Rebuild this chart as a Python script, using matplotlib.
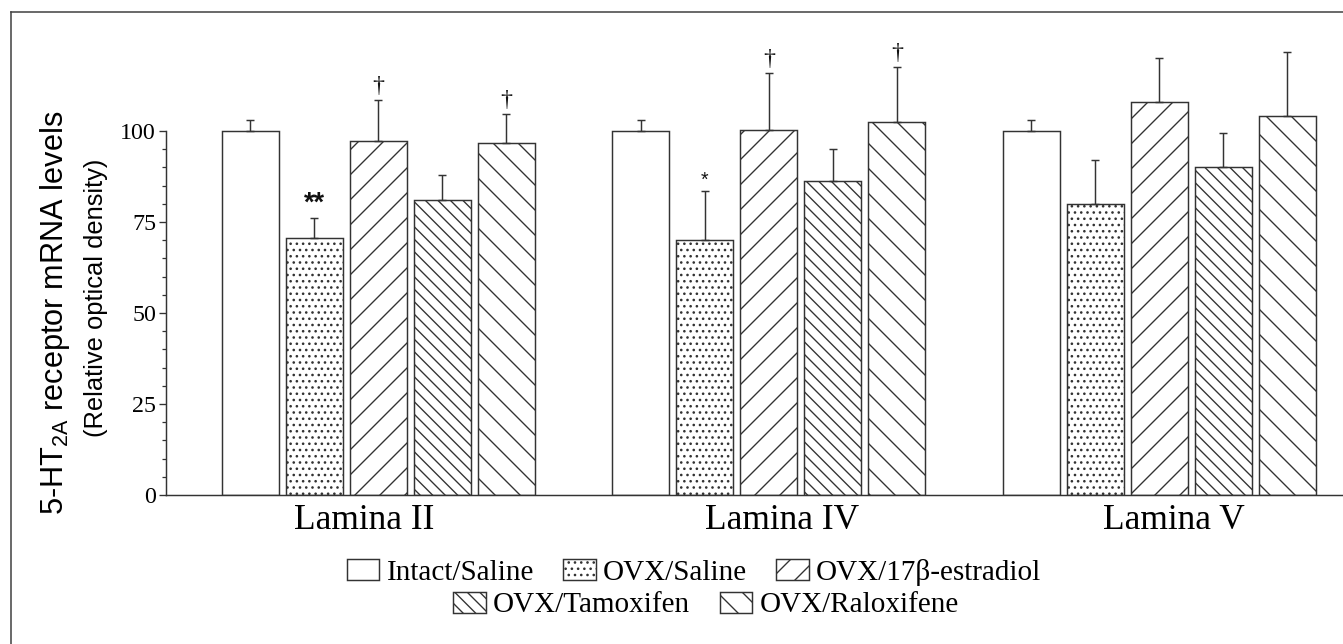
import matplotlib
matplotlib.use("Agg")
import matplotlib.pyplot as plt
from matplotlib.lines import Line2D
import numpy as np

# Data
groups = ["Lamina II", "Lamina IV", "Lamina V"]
treatments = ["Intact/Saline", "OVX/Saline", "OVX/17β-estradiol",
              "OVX/Tamoxifen", "OVX/Raloxifene"]

intact_saline = [100, 100, 100]
ovx_saline = [70.5, 70, 80]
ovx_estradiol = [97.2, 100.4, 108]
ovx_tamoxifen = [81, 86.3, 90]
ovx_raloxifene = [96.7, 102.5, 104]

intact_saline_err = [3, 3, 3]
ovx_saline_err = [5.6, 13.5, 12]
ovx_estradiol_err = [11.3, 15.5, 12]
ovx_tamoxifen_err = [6.9, 8.7, 9.5]
ovx_raloxifene_err = [8, 15.1, 17.7]

# significance marks: (group index, treatment index, symbol)
sig_marks = [(0, 1, "**"), (1, 1, "*"),
             (0, 2, "†"), (0, 4, "†"), (1, 2, "†"), (1, 4, "†")]

means = [intact_saline, ovx_saline, ovx_estradiol, ovx_tamoxifen, ovx_raloxifene]
errs = [intact_saline_err, ovx_saline_err, ovx_estradiol_err,
        ovx_tamoxifen_err, ovx_raloxifene_err]
hatches = ["", "..", "/", "\\\\", "\\"]

W, H, DPI = 1343, 644, 75
EDGE = "#333333"
SERIF = "Liberation Serif"
SANS = "Liberation Sans"

plt.rcParams["hatch.linewidth"] = 1.3
plt.rcParams["hatch.color"] = EDGE

fig = plt.figure(figsize=(W / DPI, H / DPI), dpi=DPI)
ax_left, ax_bottom = 166 / W, (H - 495) / H
ax_top = (H - 40) / H
ax = fig.add_axes([ax_left, ax_bottom, 1 - ax_left, ax_top - ax_bottom])

group_step = 6.1
width = 0.89
group_pos = np.arange(len(groups)) * group_step

handles = []
for i, (m, e) in enumerate(zip(means, errs)):
    x = group_pos + i
    b = ax.bar(x, m, width=width, color="white", edgecolor=EDGE,
               linewidth=1.4, hatch=hatches[i], zorder=2)
    handles.append(b[0])
    ax.errorbar(x, m, yerr=[np.zeros(len(m)), e], fmt="none", ecolor=EDGE,
                elinewidth=1.4, capsize=3.5, capthick=1.4, zorder=3)

for g, t, sym in sig_marks:
    top = means[t][g] + errs[t][g]
    if sym == "**":
        ax.text(group_pos[g] + t, top + 0.3, sym, ha="center", va="bottom",
                fontsize=26, fontweight="bold", family=SANS, color="#111111")
    elif sym == "*":
        ax.text(group_pos[g] + t, top + 0.3, sym, ha="center", va="bottom",
                fontsize=19, family=SANS, color="#111111")
    else:
        ax.text(group_pos[g] + t, top + 0.8, sym, ha="center", va="bottom",
                fontsize=23, family=SERIF, color="#111111")

ax.set_xlim(-1.32, 17.07)
ax.set_ylim(0, 125)
for s in ["top", "right"]:
    ax.spines[s].set_visible(False)
ax.spines["left"].set_bounds(0, 100)
for s in ["left", "bottom"]:
    ax.spines[s].set_linewidth(1.4)
    ax.spines[s].set_color(EDGE)

ax.set_yticks([0, 25, 50, 75, 100])
ax.set_yticks(np.arange(0, 101, 5), minor=True)
ax.tick_params(axis="y", which="major", length=6.5, width=1.3, color=EDGE,
               labelsize=23, pad=3)
ax.tick_params(axis="y", which="minor", length=3.8, width=1.2, color=EDGE)
for lab in ax.get_yticklabels():
    lab.set_family(SERIF)

# group labels, not exactly centred on the groups in the original
label_pos = group_pos + np.array([1.77, 2.2, 2.23])
ax.set_xticks(label_pos, groups)
ax.tick_params(axis="x", length=0, labelsize=34, pad=9)
for lab in ax.get_xticklabels():
    lab.set_family(SERIF)

# y labels
fig.text(55 / W, 1 - 313 / H, "5-HT$_{\\mathregular{2A}}$ receptor mRNA levels",
         rotation=90, ha="center", va="center", fontsize=29.5, family=SANS)
fig.text(96 / W, 1 - 298 / H, "(Relative optical density)",
         rotation=90, ha="center", va="center", fontsize=24.5, family=SANS)

# legends: two centred rows
leg_kw = dict(loc="center", frameon=False, prop={"family": SERIF, "size": 28},
              handlelength=1.13, handleheight=0.75, handletextpad=0.24,
              columnspacing=1.0, borderaxespad=0, borderpad=0)
fig.legend(handles[:3], treatments[:3], ncol=3,
           bbox_to_anchor=(694 / W, 1 - 572 / H), **leg_kw)
fig.legend(handles[3:], treatments[3:], ncol=2,
           bbox_to_anchor=(706 / W, 1 - 605 / H), **leg_kw)

# outer frame (cropped on right and bottom)
fx, fy = 11 / W, 1 - 12 / H
fig.add_artist(Line2D([fx, fx], [0, fy], transform=fig.transFigure,
                      color="#444444", lw=1.5))
fig.add_artist(Line2D([fx, 1], [fy, fy], transform=fig.transFigure,
                      color="#444444", lw=1.5))

fig.savefig("out.png", dpi=DPI)
